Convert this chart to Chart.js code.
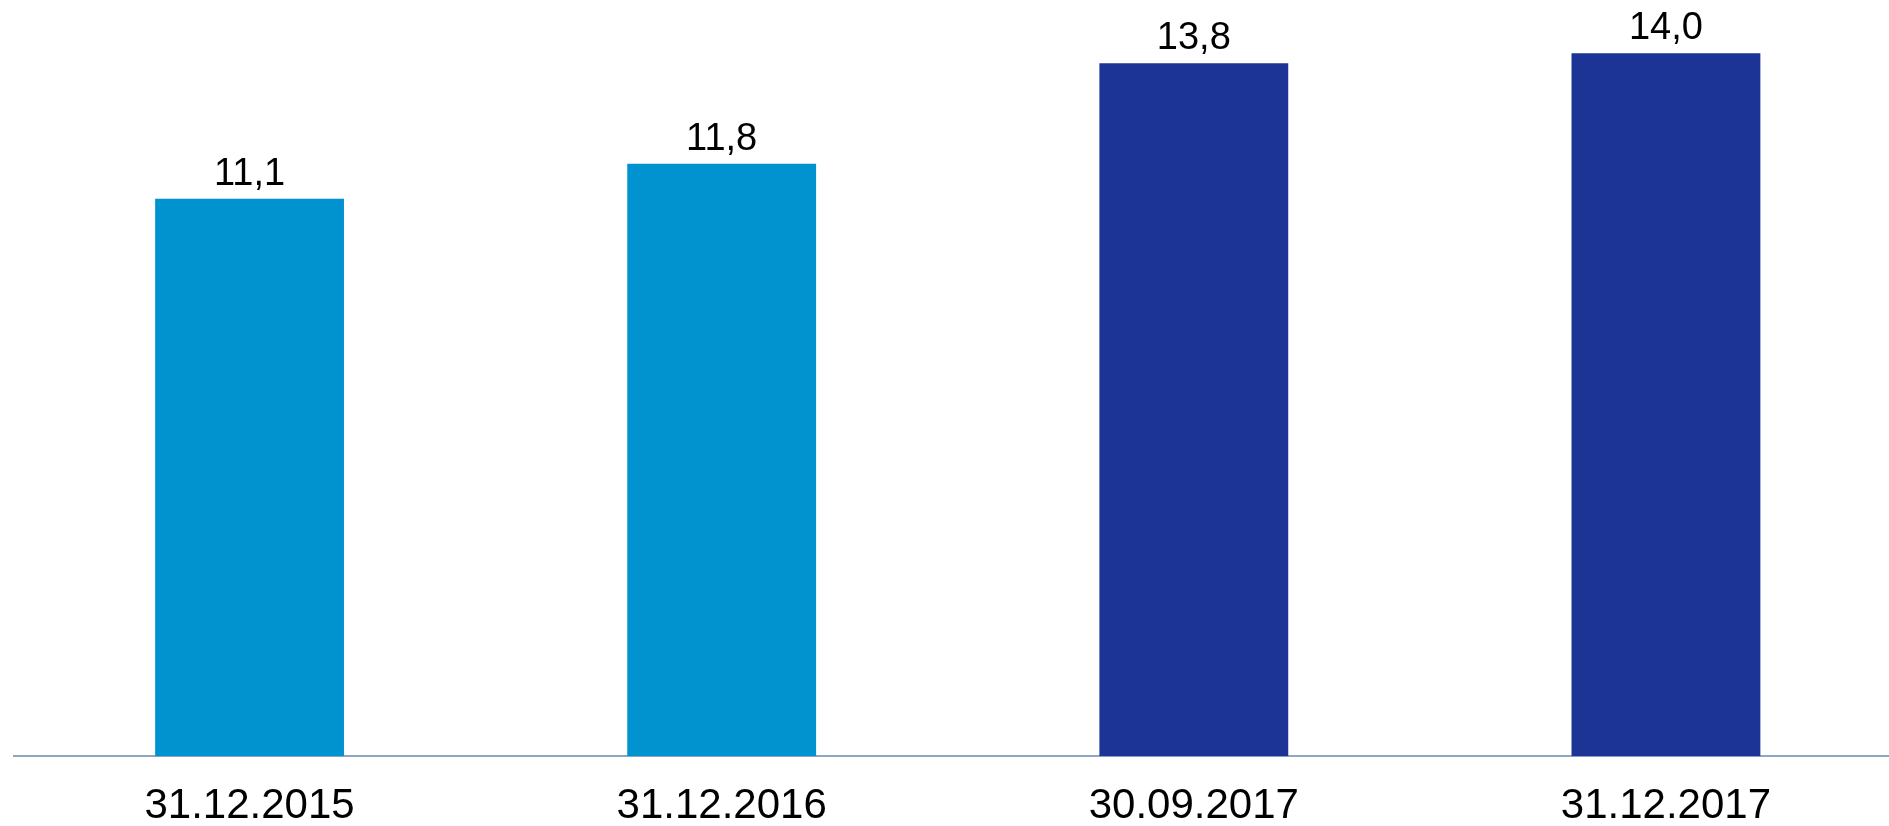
<!DOCTYPE html>
<html>
<head>
<meta charset="utf-8">
<script src="https://cdn.jsdelivr.net/npm/chart.js@4/dist/chart.umd.min.js"></script>
<style>
  html, body { margin: 0; padding: 0; background: #fff; overflow: hidden; }
  canvas { display: block; }
</style>
</head>
<body>
<canvas id="grafico" width="1902" height="856"></canvas>
<script>
const categorias = ["31.12.2015", "31.12.2016", "30.09.2017", "31.12.2017"];
const valores = [11.1, 11.8, 13.8, 14.0];
const colores = ["#0093d0", "#0093d0", "#1b3496", "#1b3496"];

// etiquetas de valor encima de las barras
const etiquetasValor = {
    id: "etiquetasValor",
    afterDatasetsDraw(chart) {
        const ctx = chart.ctx;
        const meta = chart.getDatasetMeta(0);
        ctx.save();
        ctx.font = "38px 'Liberation Sans', Arial, sans-serif";
        ctx.fillStyle = "#000";
        ctx.textAlign = "center";
        ctx.textBaseline = "alphabetic";
        meta.data.forEach((bar, i) => {
            ctx.fillText(valores[i].toFixed(1).replace(".", ","), bar.x, bar.y - 14);
        });
        ctx.restore();
    }
};

const ctx = document.getElementById("grafico").getContext("2d");
new Chart(ctx, {
    type: "bar",
    data: {
        labels: categorias,
        datasets: [{
            data: valores,
            backgroundColor: colores,
            borderWidth: 0,
            barPercentage: 0.4,
            categoryPercentage: 1.0
        }]
    },
    options: {
        responsive: false,
        animation: false,
        layout: { padding: { left: 13.5, right: 0, top: 3, bottom: 0 } },
        plugins: {
            legend: { display: false },
            tooltip: { enabled: false }
        },
        scales: {
            x: {
                grid: { display: false, drawTicks: false },
                border: { display: true, color: "#8fa6c3", width: 2 },
                ticks: {
                    color: "#000",
                    padding: 31,
                    font: { family: "'Liberation Sans', Arial, sans-serif", size: 42, lineHeight: 0.9 }
                }
            },
            y: {
                display: false,
                min: 0,
                max: 15
            }
        }
    },
    plugins: [etiquetasValor]
});
</script>
</body>
</html>
